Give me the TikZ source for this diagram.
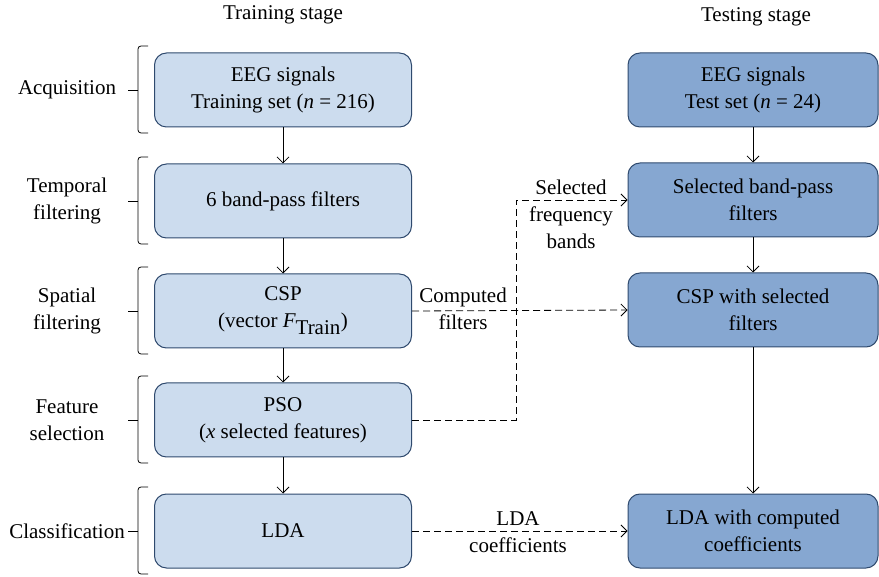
\documentclass[tikz,border=0pt]{standalone}
\usepackage{fontspec}
\setmainfont{Liberation Serif}
\usetikzlibrary{arrows.meta}
\definecolor{trainfill}{HTML}{CCDCEE}
\definecolor{testfill}{HTML}{86A7D1}
\definecolor{boxline}{HTML}{2F4A6E}
\tikzset{
  stagebox/.style={draw=boxline, line width=1pt, rounded corners=12pt, minimum height=74pt, inner sep=0pt, align=center, font=\fontsize{21}{27}\selectfont},
  trainbox/.style={stagebox, fill=trainfill, minimum width=257pt},
  testbox/.style={stagebox, fill=testfill, minimum width=250pt},
  stagename/.style={align=center, font=\fontsize{21}{27}\selectfont},
  flow/.style={-{Straight Barb[length=6pt,width=12pt]}, line width=0.8pt},
  dashflow/.style={flow, dashed, dash pattern=on 7pt off 4pt}
}
\begin{document}
\begin{tikzpicture}[x=1pt, y=-1pt]
\useasboundingbox (0,0) rectangle (879,577);
% Stage titles
\node[stagename] (traintitle) at (283,15) {Training stage};
\node[stagename] (testtitle) at (756,17) {Testing stage};
% Training stage boxes
\node[trainbox] (eegtrain) at (283,90) {EEG signals\\Training set (\textit{n} = 216)};
\node[trainbox] (bandpass) at (283,201) {6 band-pass filters};
\node[trainbox] (csp) at (283,311) {CSP\\(vector $\textit{F}_{\textrm{Train}}$)};
\node[trainbox] (pso) at (283,420) {PSO\\(\textit{x} selected features)};
\node[trainbox] (lda) at (283,531) {LDA};
% Testing stage boxes
\node[testbox] (eegtest) at (753,90) {EEG signals\\Test set (\textit{n} = 24)};
\node[testbox] (selbands) at (753,200) {Selected band-pass\\filters};
\node[testbox] (cspsel) at (753,310) {CSP with selected\\filters};
\node[testbox] (ldacoef) at (753,531) {LDA with computed\\coefficients};
% Step labels with brackets
\foreach \y/\name/\txt in {90/acq/Acquisition, 201/temp/Temporal\\filtering, 311/spat/Spatial\\filtering, 420/feat/Feature\\selection, 531/clas/Classification}{
  \node[stagename] (\name) at (67,\y) {\txt};
  \draw[line width=0.8pt, rounded corners=3pt] (148,\y-44) -- (138,\y-44) -- (138,\y+43) -- (148,\y+43);
  \draw[line width=0.8pt] (138,\y) -- (128,\y);
}
% Training flow
\draw[flow] (eegtrain) -- (bandpass);
\draw[flow] (bandpass) -- (csp);
\draw[flow] (csp) -- (pso);
\draw[flow] (pso) -- (lda);
% Testing flow
\draw[flow] (eegtest) -- (selbands);
\draw[flow] (selbands) -- (cspsel);
\draw[flow] (cspsel) -- (ldacoef);
% Transfers from training to testing
\coordinate (bend) at (516,420);
\draw[dashflow] (pso.east) -- (bend) |- (selbands.west);
\draw[dashflow] (csp.east) -- (cspsel.west);
\draw[dashflow] (lda.east) -- (ldacoef.west);
\node[stagename] (freqlabel) at (571,214) {Selected\\frequency\\bands};
\node[stagename] (filtlabel) at (463,309) {Computed\\filters};
\node[stagename] (coeflabel) at (518,532) {LDA\\coefficients};
\end{tikzpicture}
\end{document}
